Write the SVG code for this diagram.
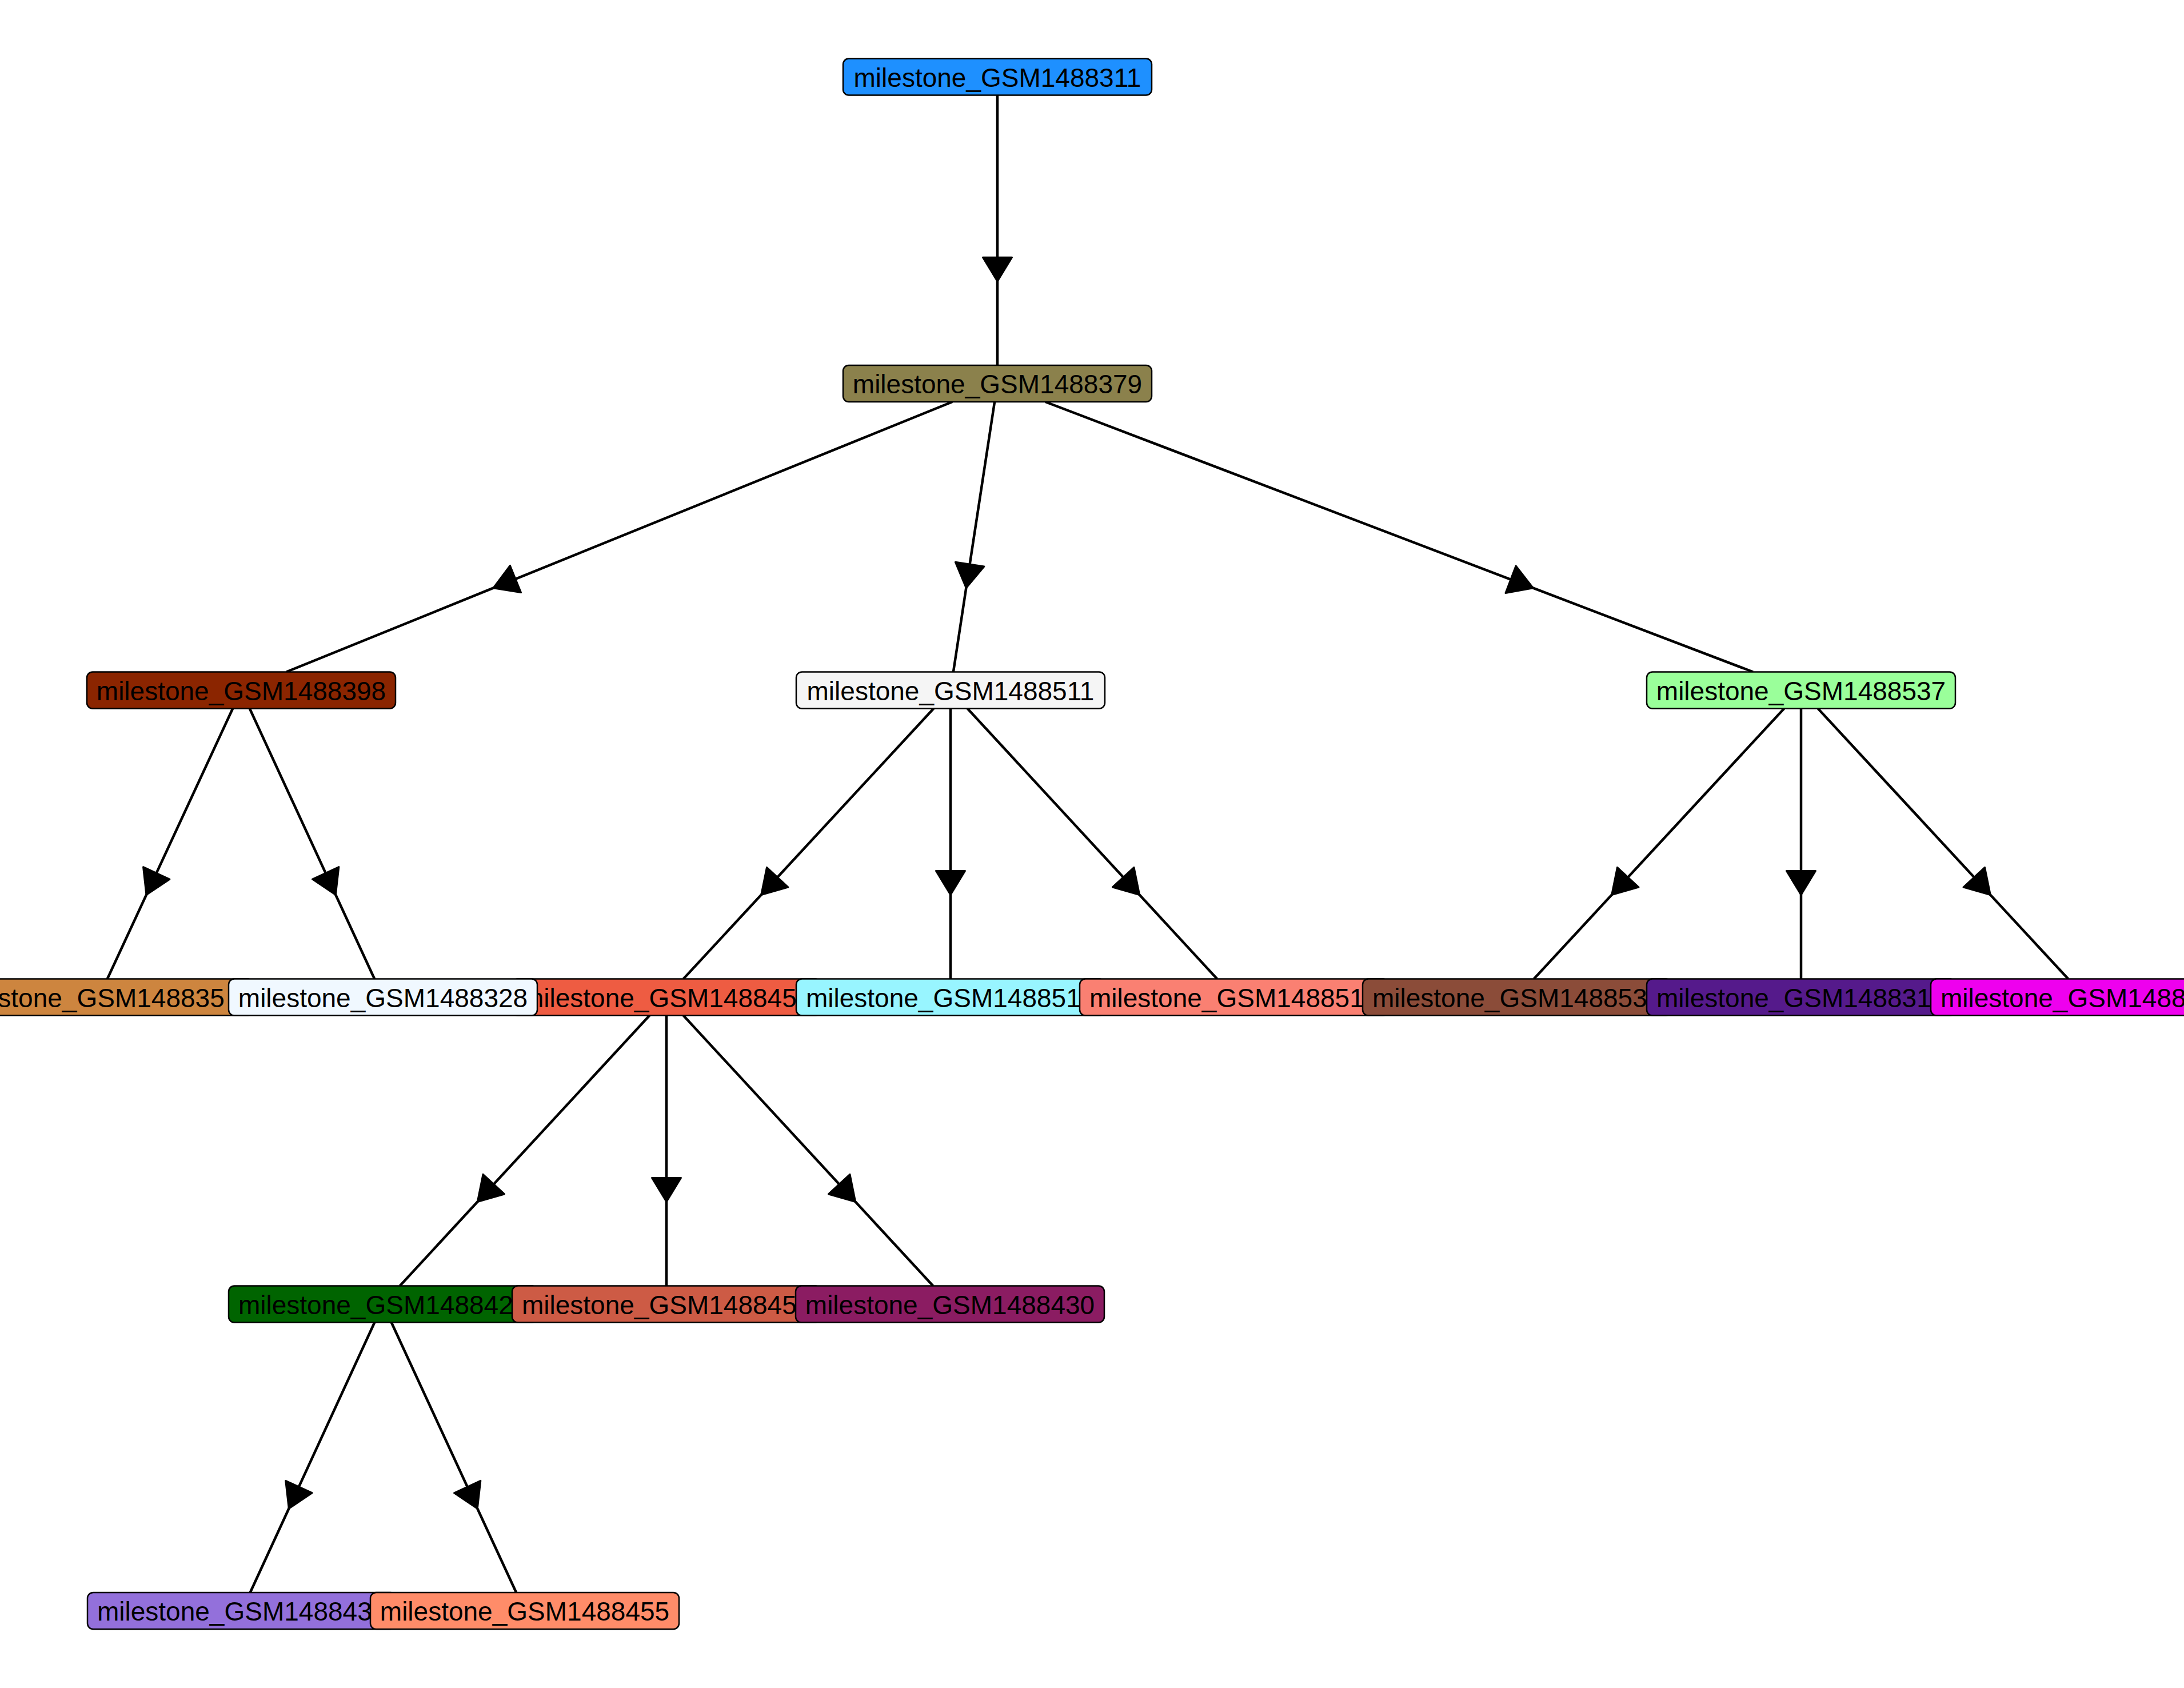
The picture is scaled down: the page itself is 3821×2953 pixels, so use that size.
<svg xmlns="http://www.w3.org/2000/svg" width="3821" height="2953" viewBox="0 0 3821 2953">
<style>
.n{stroke:#000;stroke-width:2.5}
.t{font-family:"Liberation Sans",Arial,sans-serif;font-size:46px;fill:#000}
.m{text-anchor:middle}
.e{fill:none;stroke:#000;stroke-width:4.5;marker-mid:url(#ah)}
</style>
<defs>
<marker id="ah" markerUnits="userSpaceOnUse" viewBox="-3 -3 48 57" markerWidth="48" markerHeight="57" refX="42" refY="25.5" orient="auto" overflow="visible">
<path d="M0,0 L42,25.5 L0,51 Z" fill="#000" stroke="#000" stroke-width="3" stroke-linejoin="round"/>
</marker>
</defs>
<rect width="3821" height="2953" fill="#fff"/>
<g id="edges">
<path class="e" d="M1745,166.5 L1745,492.2 L1745,639"/>
<path class="e" d="M1666.1,703 L863,1028.7 L500.9,1175.5"/>
<path class="e" d="M1740.1,703 L1690.3,1028.7 L1667.9,1175.5"/>
<path class="e" d="M1828.9,703 L2682.3,1028.7 L3067.1,1175.5"/>
<path class="e" d="M407.2,1239.5 L256,1565.5 L187.8,1712.5"/>
<path class="e" d="M436.8,1239.5 L587.3,1565.5 L655.2,1712.5"/>
<path class="e" d="M1633.4,1239.5 L1331.7,1565.5 L1195.6,1712.5"/>
<path class="e" d="M1663,1239.5 L1663,1565.5 L1663,1712.5"/>
<path class="e" d="M1692.6,1239.5 L1993.7,1565.5 L2129.4,1712.5"/>
<path class="e" d="M3121.4,1239.5 L2819.7,1565.5 L2683.6,1712.5"/>
<path class="e" d="M3151,1239.5 L3151,1565.5 L3151,1712.5"/>
<path class="e" d="M3180.6,1239.5 L3482.3,1565.5 L3618.4,1712.5"/>
<path class="e" d="M1136.4,1776.5 L835.3,2102.5 L699.6,2249.5"/>
<path class="e" d="M1166,1776.5 L1166,2102.5 L1166,2249.5"/>
<path class="e" d="M1195.6,1776.5 L1496.7,2102.5 L1632.4,2249.5"/>
<path class="e" d="M655.3,2313.5 L505.3,2639.2 L437.7,2786"/>
<path class="e" d="M684.8,2313.5 L835.3,2639.2 L903.2,2786"/>
</g>
<g id="n311"><rect class="n" x="1475" y="102.5" width="540" height="64" rx="10" fill="#1E90FF"/><text class="t m" x="1745" y="151.5">milestone_GSM1488311</text></g>
<g id="n379"><rect class="n" x="1475" y="639" width="540" height="64" rx="10" fill="#8B814C"/><text class="t m" x="1745" y="688">milestone_GSM1488379</text></g>
<g id="n398"><rect class="n" x="152" y="1175.5" width="540" height="64" rx="10" fill="#8B2500"/><text class="t m" x="422" y="1224.5">milestone_GSM1488398</text></g>
<g id="n511"><rect class="n" x="1393" y="1175.5" width="540" height="64" rx="10" fill="#F5F5F5"/><text class="t m" x="1663" y="1224.5">milestone_GSM1488511</text></g>
<g id="n537"><rect class="n" x="2881" y="1175.5" width="540" height="64" rx="10" fill="#9AFF9A"/><text class="t m" x="3151" y="1224.5">milestone_GSM1488537</text></g>
<g id="n35x"><rect class="n" x="-97" y="1712.5" width="540" height="64" rx="10" fill="#CD853F"/><text class="t" x="-88" y="1761.5">milestone_GSM148835</text></g>
<g id="n845a"><rect class="n" x="896" y="1712.5" width="540" height="64" rx="10" fill="#EE5C42"/><text class="t" x="913" y="1761.5">milestone_GSM148845</text></g>
<g id="n328"><rect class="n" x="400" y="1712.5" width="540" height="64" rx="10" fill="#F0F8FF"/><text class="t m" x="670" y="1761.5">milestone_GSM1488328</text></g>
<g id="n851a"><rect class="n" x="1393" y="1712.5" width="540" height="64" rx="10" fill="#98F5FF"/><text class="t" x="1410" y="1761.5">milestone_GSM148851</text></g>
<g id="n851b"><rect class="n" x="1889" y="1712.5" width="540" height="64" rx="10" fill="#FA8072"/><text class="t" x="1906" y="1761.5">milestone_GSM148851</text></g>
<g id="n853"><rect class="n" x="2384" y="1712.5" width="540" height="64" rx="10" fill="#8B4C39"/><text class="t" x="2401" y="1761.5">milestone_GSM148853</text></g>
<g id="n831"><rect class="n" x="2881" y="1712.5" width="540" height="64" rx="10" fill="#551A8B"/><text class="t" x="2898" y="1761.5">milestone_GSM148831</text></g>
<g id="n1488"><rect class="n" x="3378" y="1712.5" width="540" height="64" rx="10" fill="#EE00EE"/><text class="t" x="3395" y="1761.5">milestone_GSM1488</text></g>
<g id="n842"><rect class="n" x="400" y="2249.5" width="540" height="64" rx="10" fill="#006400"/><text class="t" x="417" y="2298.5">milestone_GSM148842</text></g>
<g id="n845b"><rect class="n" x="896" y="2249.5" width="540" height="64" rx="10" fill="#CD5B45"/><text class="t" x="913" y="2298.5">milestone_GSM148845</text></g>
<g id="n430"><rect class="n" x="1392" y="2249.5" width="540" height="64" rx="10" fill="#8B1C62"/><text class="t m" x="1662" y="2298.5">milestone_GSM1488430</text></g>
<g id="n843"><rect class="n" x="153" y="2786" width="540" height="64" rx="10" fill="#9370DB"/><text class="t" x="170" y="2835">milestone_GSM148843</text></g>
<g id="n455"><rect class="n" x="648" y="2786" width="540" height="64" rx="10" fill="#FF8C69"/><text class="t m" x="918" y="2835">milestone_GSM1488455</text></g>
</svg>
